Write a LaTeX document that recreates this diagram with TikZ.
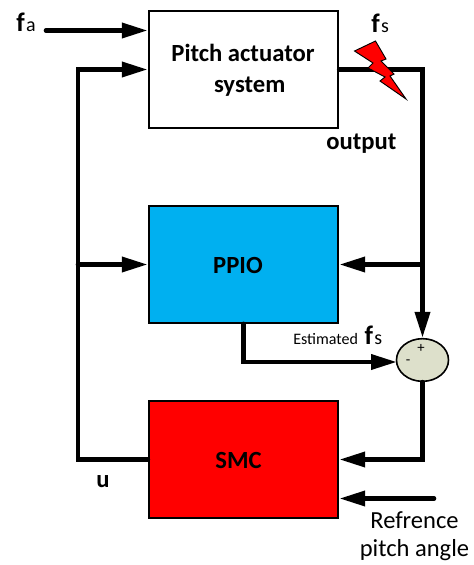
\documentclass[tikz,border=0pt]{standalone}
\usepackage{fontspec}
\setmainfont{Carlito}
\usetikzlibrary{arrows.meta,calc,shapes.geometric}
\definecolor{ppioblue}{HTML}{00B0F0}
\definecolor{sumfill}{HTML}{DDE0CB}
\tikzset{
  x=0.75pt,y=-0.75pt,
  block/.style={draw=black,line width=1.6pt,minimum width=142pt,minimum height=87.5pt,inner sep=0pt},
  blocktext/.style={inner sep=0pt,align=center,font=\fontsize{18.5}{23}\selectfont\bfseries},
  sig/.style={line width=3.5pt,line cap=round,line join=miter},
  arr/.style={sig,-{Triangle[length=19.5pt,width=11pt]}},
  lbl/.style={inner sep=0pt,font=\fontsize{16}{19}\selectfont},
}
\begin{document}
\begin{tikzpicture}
\useasboundingbox (0,0) rectangle (474,565);
\node[block,fill=white] (act) at (243.5,69.5) {};
\node[block,fill=ppioblue] (ppio) at (243.5,264.5) {};
\node[block,fill=red] (smc) at (243.5,459.5) {};
\node[blocktext] (acttext) at (243,70) {Pitch actuator\\\hspace*{10pt}system};
\node[blocktext] (ppiotext) at (238,265) {PPIO};
\node[blocktext] (smctext) at (238.5,460) {SMC};
\node[draw=black,line width=1.2pt,fill=sumfill,ellipse,minimum width=39pt,minimum height=32pt,inner sep=0pt] (sum) at (422.5,360) {};
\node[inner sep=0pt,font=\fontsize{11}{12}\selectfont] (plus) at (421,348) {+};
\node[inner sep=0pt,font=\fontsize{11}{12}\selectfont] (minus) at (408,362) {-};

\coordinate (fastart) at (46,30.5);
\coordinate (fain) at (act.west |- fastart);
\coordinate (trunk) at (78,0);
\coordinate (rail) at (422.5,0);
\coordinate (refstart) at (434,498.5);
\coordinate (refin) at (smc.east |- refstart);
\coordinate (ppioout) at (243.5,0);
\coordinate (sumin) at (397,362);

\draw[arr] (fastart) -- (fain);
\draw[arr] (smc.west) -- (trunk |- smc.west) -- (trunk |- act.west) -- (act.west);
\draw[arr] (trunk |- ppio.west) -- (ppio.west);
\draw[arr] (act.east) -- (rail |- act.east) -- (sum.north);
\draw[arr] (rail |- ppio.east) -- (ppio.east);
\draw[arr] (ppioout |- ppio.south) -- (ppioout |- sumin) -- (sumin);
\draw[arr] (sum.south) -- (rail |- smc.east) -- (smc.east);
\draw[arr] (refstart) -- (refin);

\fill[red,draw=black,line width=0.7pt,line join=miter] (354.5,51) -- (375.5,41) -- (386,59) -- (381,61) -- (394,74) -- (390,76) -- (406,99) -- (380,81) -- (385,77) -- (368,68) -- (373,63) -- cycle;

\node[lbl,anchor=base west] (fa) at (16,31) {\textbf{\fontsize{20}{20}\selectfont f}\kern1pt\fontsize{15}{16}\selectfont a};
\node[lbl,anchor=base west] (fs) at (371,32) {\textbf{\fontsize{20}{20}\selectfont f}\kern1pt\fontsize{15}{16}\selectfont s};
\node[lbl,anchor=base west,font=\fontsize{18.5}{19}\selectfont\bfseries] (out) at (326,149) {output};
\node[lbl,anchor=base west,font=\fontsize{18.5}{19}\selectfont\bfseries] (u) at (96,487) {u};
\node[lbl,anchor=base west,font=\fontsize{12}{13}\selectfont] (est) at (293,344) {Estimated\kern5pt\textbf{\fontsize{20}{20}\selectfont f}\kern1pt\fontsize{15}{16}\selectfont s};
\node[lbl,align=center,anchor=north,font=\fontsize{18.4}{21.5}\selectfont] (ref) at (414.5,511) {Refrence\\pitch angle};
\end{tikzpicture}
\end{document}
